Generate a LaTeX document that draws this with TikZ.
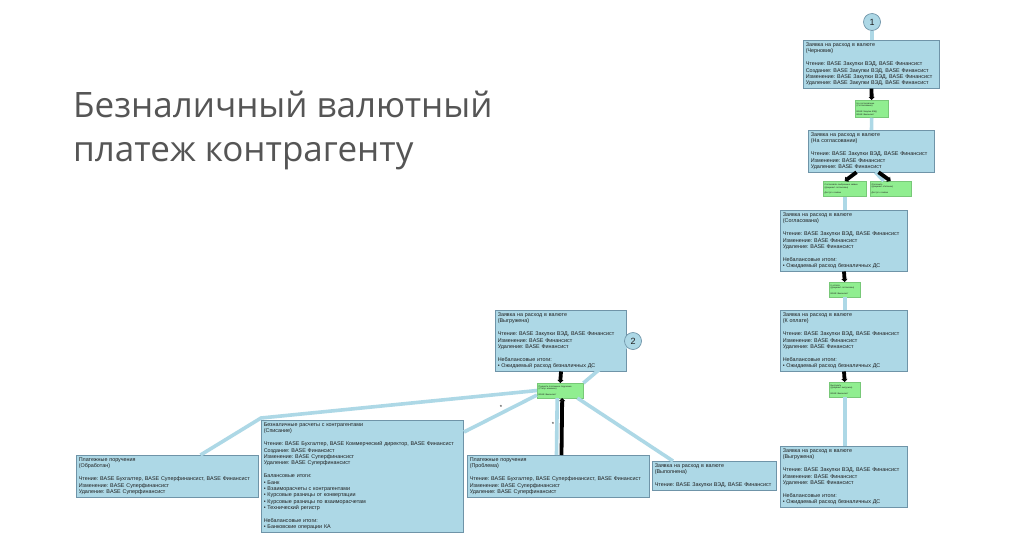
\documentclass[tikz,border=0pt]{standalone}
\usepackage{fontspec}
\setmainfont{Liberation Sans}
\newfontfamily\headfont{Open Sans}
\usetikzlibrary{arrows.meta}
\frenchspacing
\definecolor{boxfill}{HTML}{ADD8E6}
\definecolor{boxline}{HTML}{6F94A8}
\definecolor{actfill}{HTML}{90EE90}
\definecolor{actline}{HTML}{78C878}
\definecolor{headtext}{HTML}{555555}
\definecolor{bodytext}{HTML}{1E1E1E}
\newcommand{\skipline}{\\[6.4pt]}
\newcommand{\skiptiny}{\\[2.7pt]}
\tikzset{
  state/.style={draw=boxline, fill=boxfill, line width=0.6pt, anchor=north west, align=left,
    inner xsep=2.5pt, inner ysep=2.4pt, text=bodytext, font=\fontsize{5.4}{6.4}\selectfont},
  act/.style={draw=actline, fill=actfill, line width=0.4pt, anchor=north west, align=left,
    inner xsep=1.5pt, inner ysep=2.5pt, text=bodytext, font=\fontsize{2.2}{2.7}\selectfont},
  num/.style={circle, draw=boxline, fill=boxfill, line width=0.7pt, minimum size=17pt,
    inner sep=0pt, text=bodytext, font=\fontsize{9}{9}\selectfont},
  flow/.style={draw=boxfill, line width=3.6pt},
  push/.style={draw=black, line width=3.8pt, -{Triangle[length=3pt,width=6pt]}},
  head/.style={text=headtext, anchor=base west, inner sep=0pt, font=\headfont\fontsize{35}{40}\selectfont},
  lab/.style={text=bodytext, font=\fontsize{6}{6}\selectfont, inner sep=0pt},
}

\begin{document}
\begin{tikzpicture}[x=1pt,y=-1pt]
  \fill[white] (0,0) rectangle (1020,550);
  \useasboundingbox (0,0) rectangle (1020,550);

  % title
  \node[head] (title1) at (73,117) {Безналичный валютный};
  \node[head] (title2) at (73,161) {платеж контрагенту};

  % right column: request states
  \node[num] (c1) at (872,22) {1};
  \node[state, text width=131.4pt] (draft) at (803,40) {Заявка на расход в валюте\\(Черновик)\skipline
    Чтение: BASE Закупки ВЭД, BASE Финансист\\Создание: BASE Закупки ВЭД, BASE Финансист\\
    Изменение: BASE Закупки ВЭД, BASE Финансист\\Удаление: BASE Закупки ВЭД, BASE Финансист};
  \node[act, text width=30pt] (toagree) at (855,100) {На согласование\\(Согласование)\skiptiny
    BASE Закупки ВЭД\\BASE Финансист};
  \node[state, text width=121.4pt] (agreeing) at (808,130) {Заявка на расход в валюте\\(На согласовании)\skipline
    Чтение: BASE Закупки ВЭД, BASE Финансист\\Изменение: BASE Финансист\\Удаление: BASE Финансист};
  \node[act, text width=40pt] (approve) at (823,181) {Согласовать выбранные заявки\\(Документ согласован)\skiptiny
    Доступ к заявке};
  \node[act, text width=38pt] (reject) at (870,181) {Отклонить\\(Документ отклонен)\skiptiny
    Доступ к заявке};
  \node[state, text width=122.4pt] (agreed) at (780,210) {Заявка на расход в валюте\\(Согласована)\skipline
    Чтение: BASE Закупки ВЭД, BASE Финансист\\Изменение: BASE Финансист\\Удаление: BASE Финансист\skipline
    Небалансовые итоги:\\• Ожидаемый расход безналичных ДС};
  \node[act, text width=28pt] (topay) at (829,282) {К оплате\\(Документ согласован)\skiptiny
    BASE Финансист};
  \node[state, text width=122.4pt] (payable) at (780,310) {Заявка на расход в валюте\\(К оплате)\skipline
    Чтение: BASE Закупки ВЭД, BASE Финансист\\Изменение: BASE Финансист\\Удаление: BASE Финансист\skipline
    Небалансовые итоги:\\• Ожидаемый расход безналичных ДС};
  \node[act, text width=28pt] (export) at (829,382) {Выгрузить\\(Документ выгружен)\skiptiny
    BASE Финансист};
  \node[state, text width=122.4pt] (exported) at (780,446) {Заявка на расход в валюте\\(Выгружена)\skipline
    Чтение: BASE Закупки ВЭД, BASE Финансист\\Изменение: BASE Финансист\\Удаление: BASE Финансист\skipline
    Небалансовые итоги:\\• Ожидаемый расход безналичных ДС};

  % middle: posting
  \node[state, text width=126.4pt] (unloaded) at (495,310) {Заявка на расход в валюте\\(Выгружена)\skipline
    Чтение: BASE Закупки ВЭД, BASE Финансист\\Изменение: BASE Финансист\\Удаление: BASE Финансист\skipline
    Небалансовые итоги:\\• Ожидаемый расход безналичных ДС};
  \node[num] (c2) at (633,341) {2};
  \node[act, text width=43pt] (post) at (537,383) {Провести платежное поручение\\(Статус изменен)\skiptiny
    BASE Финансист};

  % bottom row
  \node[state, text width=177.4pt] (orderdone) at (76,455) {Платежные поручения\\(Обработан)\skipline
    Чтение: BASE Бухгалтер, BASE Суперфинансист, BASE Финансист\\Изменение: BASE Суперфинансист\\
    Удаление: BASE Суперфинансист};
  \node[state, text width=197.4pt] (settle) at (261,420) {Безналичные расчеты с контрагентами\\(Списание)\skipline
    Чтение: BASE Бухгалтер, BASE Коммерческий директор, BASE Финансист\\Создание: BASE Финансист\\
    Изменение: BASE Суперфинансист\\Удаление: BASE Суперфинансист\skipline
    Балансовые итоги:\\• Банк\\• Взаиморасчеты с контрагентами\\• Курсовые разницы от конвертации\\
    • Курсовые разницы по взаиморасчетам\\• Технический регистр\skipline
    Небалансовые итоги:\\• Банковские операции КА};
  \node[state, text width=177.4pt] (orderfail) at (467,455) {Платежные поручения\\(Проблема)\skipline
    Чтение: BASE Бухгалтер, BASE Суперфинансист, BASE Финансист\\Изменение: BASE Суперфинансист\\
    Удаление: BASE Суперфинансист};
  \node[state, text width=119.4pt] (done) at (652,461) {Заявка на расход в валюте\\(Выполнена)\skipline
    Чтение: BASE Закупки ВЭД, BASE Финансист};

  % connectors
  \draw[flow] (c1) -- (c1 |- draft.north);
  \draw[push] (draft.south) -- (toagree.north);
  \draw[flow] (toagree.south) -- (agreeing.north);
  \draw[flow] ([xshift=4pt]agreeing.south) -- ([xshift=-7pt]reject.north);
  \draw[push] ([xshift=-15pt]agreeing.south) -- (approve.north);
  \draw[push] ([xshift=7pt]agreeing.south) -- (reject.north);
  \draw[flow] (approve.south) -- (approve.south |- agreed.north);
  \draw[push] (agreed.south) -- (topay.north);
  \draw[flow] (topay.south) -- (topay.south |- payable.north);
  \draw[push] (payable.south) -- (export.north);
  \draw[flow] (export.south) -- (export.south |- exported.north);

  \draw[push] (unloaded.south) -- (post.north);
  \draw[flow] (c2) -- (post.north east);
  \draw[flow] ([xshift=33pt]orderdone.north) -- ([yshift=2pt]settle.north west) -- (post.west);
  \draw[flow] ([yshift=-12pt]settle.north east) -- ([yshift=3pt]post.south west);
  \draw[flow] ([xshift=-2pt]orderfail.north) -- ([xshift=-3pt]post.south);
  \draw[push] ([xshift=3pt]orderfail.north) -- ([xshift=2pt]post.south);
  \draw[flow] ([xshift=-6pt]post.south east) -- ([xshift=21pt]done.north west);
  \node[lab] (star1) at (501,407) {*};
  \node[lab] (star2) at (553,424) {*};
\end{tikzpicture}
\end{document}
